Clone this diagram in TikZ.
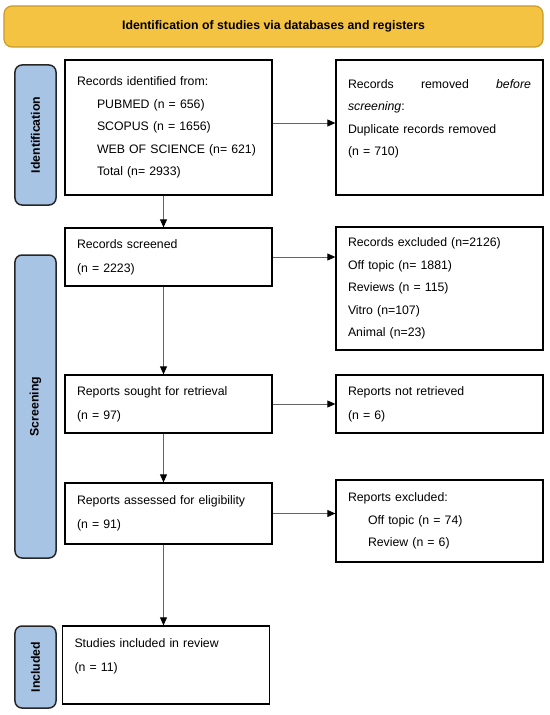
\documentclass[tikz,border=0pt]{standalone}
\usepackage{fontspec}
\setmainfont{Liberation Sans}
\usetikzlibrary{arrows.meta}
\definecolor{titlefill}{RGB}{245,195,66}
\definecolor{titleline}{RGB}{200,155,45}
\definecolor{barfill}{RGB}{168,196,229}
\definecolor{arrowgray}{RGB}{100,100,100}
\begin{document}
\begin{tikzpicture}[x=1bp,y=-1bp,
  basefont/.style={font=\fontsize{12.3bp}{22.5bp}\selectfont},
  box/.style={basefont, draw=black, line width=1.3bp, minimum width=207bp,
    text width=183bp, inner xsep=12bp, inner ysep=0bp, align=left},
  twoline/.style={font=\fontsize{12.3bp}{24bp}\selectfont},
  sidebar/.style={draw=black!85, line width=1.5bp, fill=barfill, rounded corners=7bp,
    minimum width=41bp, inner sep=0pt},
  sidetext/.style={basefont, font=\fontsize{12.3bp}{14bp}\selectfont\bfseries, rotate=90},
  flow/.style={draw=arrowgray, line width=0.8bp, -{Triangle[length=8bp,width=7bp,color=black]}}
]
\useasboundingbox (0,0) rectangle (550,715);

% title banner
\node[draw=titleline, line width=1.2bp, fill=titlefill, rounded corners=8bp,
  minimum width=539bp, minimum height=41bp, inner sep=0pt,
  font=\fontsize{12.3bp}{14bp}\selectfont\bfseries] (title) at (273.5,26.5)
  {Identification of studies via databases and registers};

% side bars
\node[sidebar, minimum height=140bp] (idbar) at (35.5,135) {};
\node[sidetext] (idtext) at (idbar.center) {Identification};
\node[sidebar, minimum height=303bp] (scbar) at (35.5,406.5) {};
\node[sidetext] (sctext) at (scbar.center) {Screening};
\node[sidebar, minimum height=82bp] (incbar) at (35.5,667) {};
\node[sidetext] (inctext) at (incbar.center) {Included};

% boxes
\node[box, minimum height=135bp] (b1) at (168.5,127.5)
  {Records identified from:\\
   \hspace*{20bp}PUBMED (n = 656)\\
   \hspace*{20bp}SCOPUS (n = 1656)\\
   \hspace*{20bp}WEB OF SCIENCE (n= 621)\\
   \hspace*{20bp}Total (n= 2933)};
\node[box, minimum height=135bp] (b2) at (439.5,127.5)
  {\hbox to 183bp{Records\hfill removed\hfill\textit{before}}\\
   \textit{screening}:\\
   Duplicate records removed\\
   (n = 710)\rule[-20bp]{0pt}{20bp}};
\node[box, twoline, minimum height=58bp] (b3) at (168.5,257)
  {Records screened\\(n = 2223)};
\node[box, minimum height=123bp] (b4) at (439.5,288.5)
  {Records excluded (n=2126)\\
   Off topic (n= 1881)\\
   Reviews (n = 115)\\
   Vitro (n=107)\\
   Animal (n=23)};
\node[box, twoline, minimum height=58bp] (b5) at (168.5,404)
  {Reports sought for retrieval\\(n = 97)};
\node[box, twoline, minimum height=58bp] (b6) at (439.5,404)
  {Reports not retrieved\\(n = 6)};
\node[box, twoline, minimum height=61bp] (b7) at (168.5,513.5)
  {Reports assessed for eligibility\\(n = 91)};
\node[box, minimum height=82bp] (b8) at (439.5,521)
  {Reports excluded:\\
   \hspace*{20bp}Off topic (n = 74)\\
   \hspace*{20bp}Review (n = 6)};
\node[box, twoline, minimum width=206bp, minimum height=78bp] (b9) at (166,665)
  {Studies included in review\\(n = 11)\rule[-20bp]{0pt}{20bp}};

% connectors
\coordinate (ax) at (163.5,0);
\draw[flow] (b1.south -| ax) -- (b3.north -| ax);
\draw[flow] (b3.south -| ax) -- (b5.north -| ax);
\draw[flow] (b5.south -| ax) -- (b7.north -| ax);
\draw[flow] (b7.south -| ax) -- (b9.north -| ax);
\coordinate (a1) at ([yshift=4.5bp]b1.east);
\draw[flow] (a1) -- (a1 -| b2.west);
\draw[flow] (b3.east) -- (b3.east -| b4.west);
\draw[flow] (b5.east) -- (b5.east -| b6.west);
\draw[flow] (b7.east) -- (b7.east -| b8.west);
\end{tikzpicture}
\end{document}
